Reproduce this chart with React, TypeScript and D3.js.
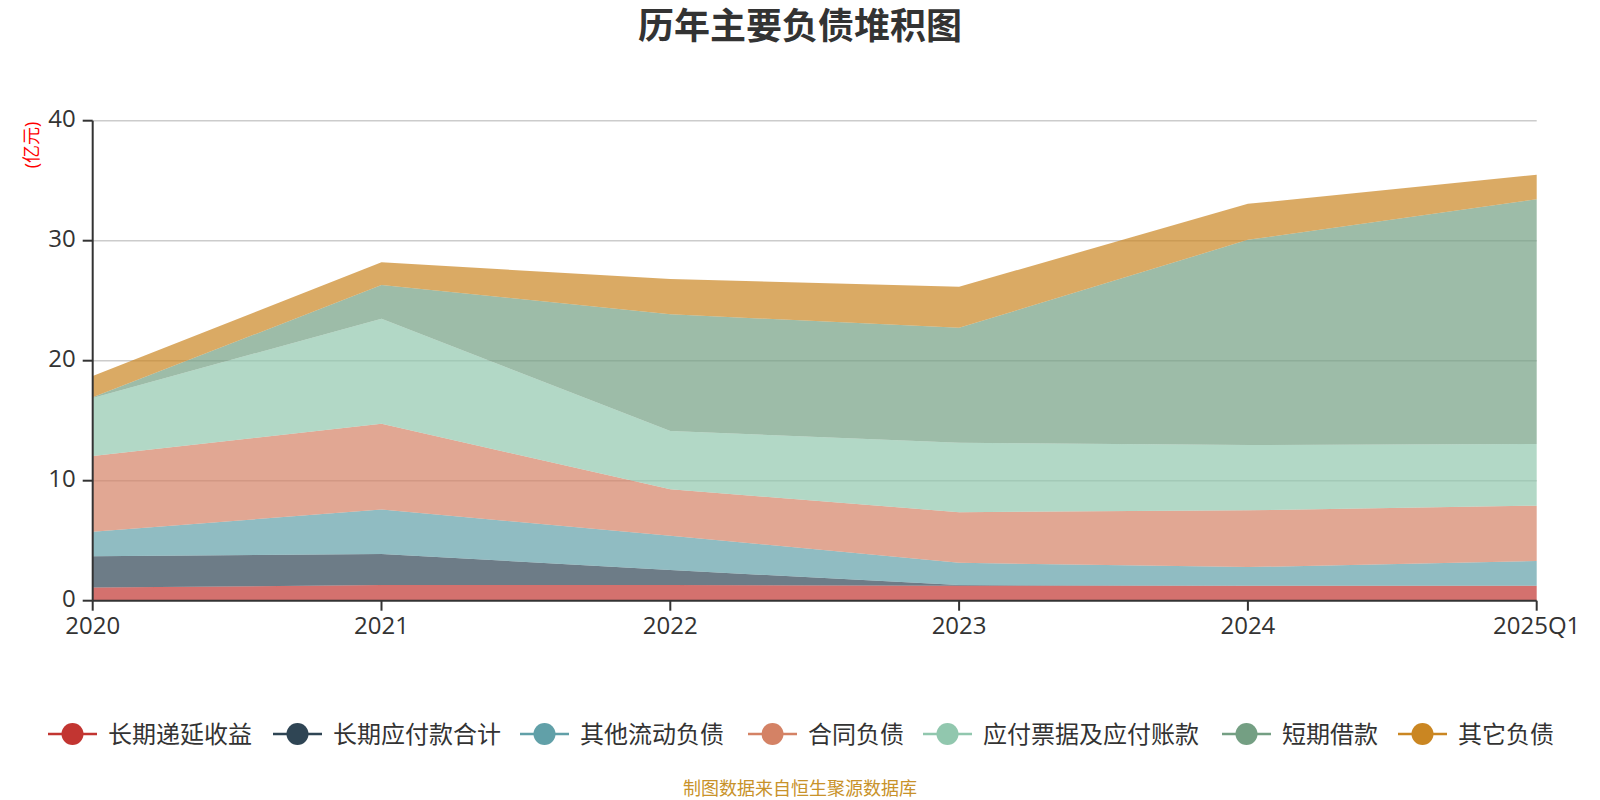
import * as d3 from 'd3';
import { useEffect, useRef } from 'react';

const categories = ['2020', '2021', '2022', '2023', '2024', '2025Q1'];

const seriesNames = ['长期递延收益', '长期应付款合计', '其他流动负债', '合同负债', '应付票据及应付账款', '短期借款', '其它负债'];
const seriesColors = ['#c23531', '#2f4554', '#61a0a8', '#d48265', '#91c7ae', '#749f83', '#ca8622'];

const deferredIncome = [1.1, 1.3, 1.3, 1.25, 1.25, 1.25];
const longTermPayables = [2.6, 2.6, 1.26, 0.05, 0, 0];
const otherCurrent = [2.05, 3.7, 2.86, 1.86, 1.55, 2.06];
const contractLiab = [6.31, 7.15, 3.86, 4.22, 4.73, 4.61];
const notesAccounts = [4.84, 8.75, 4.86, 5.78, 5.44, 5.14];
const shortLoans = [0.05, 2.8, 9.73, 9.58, 17.1, 20.39];
const otherLiab = [1.77, 1.9, 2.93, 3.42, 3.0, 2.05];

const yTicks = [0, 10, 20, 30, 40];

const FONT = '"Open Sans", "Noto Sans CJK SC", sans-serif';

export default function App() {
    const ref = useRef<SVGSVGElement>(null);

    useEffect(() => {
        const svg = d3.select(ref.current);
        svg.selectAll("*").remove();

        const left = 92.7, right = 1536.7, top = 120.7, bottom = 600.7;

        const values = [deferredIncome, longTermPayables, otherCurrent, contractLiab, notesAccounts, shortLoans, otherLiab];
        const rows = categories.map((c, i) => {
            const r: any = { cat: c };
            seriesNames.forEach((n, k) => { r[n] = values[k][i]; });
            return r;
        });

        const x = d3.scalePoint<string>().domain(categories).range([left, right]);
        const y = d3.scaleLinear().domain([0, 40]).range([bottom, top]);

        // title
        svg.append("text")
            .attr("x", 800).attr("y", 39)
            .attr("text-anchor", "middle")
            .style("font-family", FONT)
            .style("font-size", "36px")
            .style("font-weight", "bold")
            .style("fill", "#333")
            .text("历年主要负债堆积图");

        // grid lines
        svg.append("g").selectAll("line")
            .data(yTicks.filter(t => t > 0))
            .join("line")
            .attr("x1", left).attr("x2", right)
            .attr("y1", d => y(d)).attr("y2", d => y(d))
            .attr("stroke", "#ccc")
            .attr("stroke-width", 1.5);

        // stacked areas
        const stack = d3.stack<any>().keys(seriesNames);
        const layers = stack(rows);
        const area = d3.area<any>()
            .x(d => x(d.data.cat)!)
            .y0(d => y(d[0]))
            .y1(d => y(d[1]));

        svg.append("g").selectAll("path")
            .data(layers)
            .join("path")
            .attr("fill", (_, i) => seriesColors[i])
            .attr("fill-opacity", 0.7)
            .attr("stroke", "none")
            .attr("d", area as any);

        // y axis
        const yAxis = svg.append("g");
        yAxis.append("line")
            .attr("x1", left).attr("x2", left)
            .attr("y1", top).attr("y2", bottom)
            .attr("stroke", "#333").attr("stroke-width", 2);
        yAxis.selectAll("line.tick")
            .data(yTicks)
            .join("line")
            .attr("class", "tick")
            .attr("x1", left - 10).attr("x2", left)
            .attr("y1", d => y(d)).attr("y2", d => y(d))
            .attr("stroke", "#333").attr("stroke-width", 2);
        yAxis.selectAll("text")
            .data(yTicks)
            .join("text")
            .attr("x", left - 17)
            .attr("y", d => y(d) + 6.5)
            .attr("text-anchor", "end")
            .style("font-family", FONT)
            .style("font-size", "24px")
            .style("fill", "#333")
            .text(d => d);

        // unit label
        svg.append("text")
            .attr("transform", "translate(38,145) rotate(-90)")
            .attr("text-anchor", "middle")
            .style("font-family", FONT)
            .style("font-size", "18px")
            .style("fill", "red")
            .text("(亿元)");

        // x axis
        const xAxis = svg.append("g");
        xAxis.append("line")
            .attr("x1", left).attr("x2", right)
            .attr("y1", bottom).attr("y2", bottom)
            .attr("stroke", "#333").attr("stroke-width", 2);
        xAxis.selectAll("line.tick")
            .data(categories)
            .join("line")
            .attr("class", "tick")
            .attr("x1", d => x(d)!).attr("x2", d => x(d)!)
            .attr("y1", bottom).attr("y2", bottom + 10)
            .attr("stroke", "#333").attr("stroke-width", 2);
        xAxis.selectAll("text")
            .data(categories)
            .join("text")
            .attr("x", d => x(d)!)
            .attr("y", 634)
            .attr("text-anchor", "middle")
            .style("font-family", FONT)
            .style("font-size", "24px")
            .style("fill", "#333")
            .text(d => d);

        // legend
        const legendX = [48, 273, 520, 748, 923, 1222, 1398];
        const legend = svg.append("g");
        seriesNames.forEach((n, i) => {
            const g = legend.append("g").attr("transform", `translate(${legendX[i]},734)`);
            g.append("line")
                .attr("x1", 0).attr("x2", 49)
                .attr("y1", 0).attr("y2", 0)
                .attr("stroke", seriesColors[i]).attr("stroke-width", 2.5);
            g.append("circle")
                .attr("cx", 24.5).attr("cy", 0).attr("r", 11)
                .attr("fill", seriesColors[i]);
            g.append("text")
                .attr("x", 60).attr("y", 8.5)
                .style("font-family", FONT)
                .style("font-size", "24px")
                .style("fill", "#333")
                .text(n);
        });

        // footer
        svg.append("text")
            .attr("x", 800).attr("y", 795)
            .attr("text-anchor", "middle")
            .style("font-family", FONT)
            .style("font-size", "18px")
            .style("fill", "#c8922a")
            .text("制图数据来自恒生聚源数据库");
    }, []);

    return (
        <div style={{ position: 'absolute', left: 0, top: 0 }}>
            <svg ref={ref} width={1600} height={800} style={{ display: 'block', background: '#fff' }} />
        </div>
    );
}
